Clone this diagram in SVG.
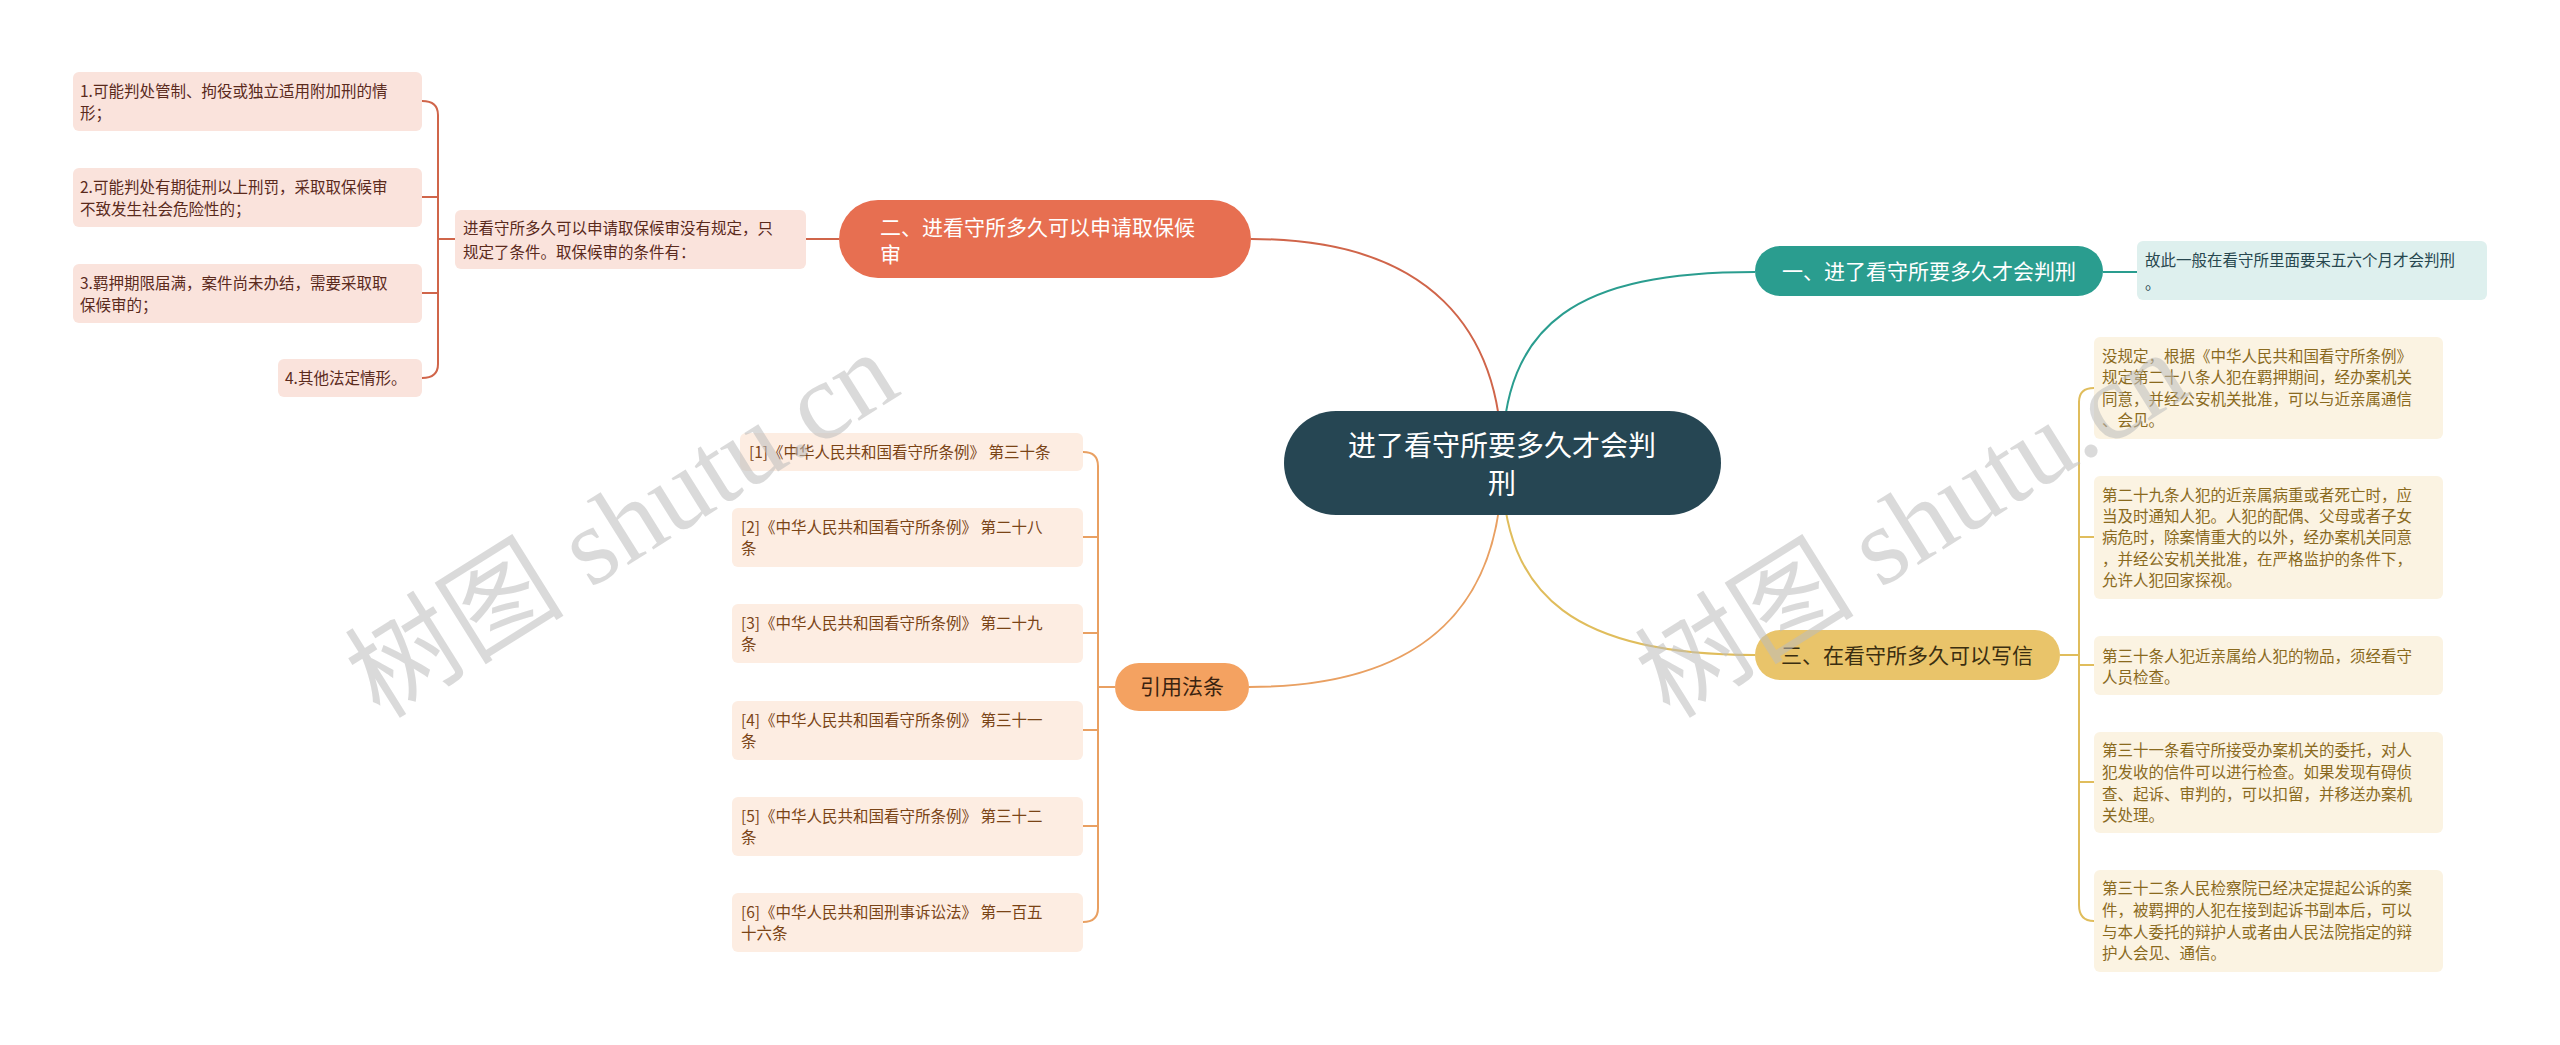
<svg xmlns="http://www.w3.org/2000/svg" width="2560" height="1045" viewBox="0 0 2560 1045">
<style>
text{font-family:"Noto Sans CJK SC","Liberation Sans",sans-serif}
.s{font-size:15.5px}
.p{fill:#fae3dc}.pt{fill:#5a2a1c}
.y{fill:#fbf3e2}.yt{fill:#8a6a1e}
.r{fill:#fdede2}.rt{fill:#7a4416}
.c{fill:none;stroke-width:2}
.wm{font-family:"Liberation Serif","Noto Sans CJK SC",serif;font-size:110px;fill:#bdbdbd;opacity:0.55}
</style>
<rect width="2560" height="1045" fill="#fff"/>
<g id="connectors">
<path class="c" stroke="#d0654a" d="M1251,239 C1430,239 1502,330 1502,463"/>
<path class="c" stroke="#2a9d8f" d="M1502,463 C1502,320 1580,272 1755,272"/>
<path class="c" stroke="#e0bd5c" d="M1502,463 C1502,600 1580,655 1755,655"/>
<path class="c" stroke="#e9a062" d="M1249,687 C1430,687 1502,600 1502,463"/>
<path class="c" stroke="#d0654a" d="M839,239 L806,239"/>
<path class="c" stroke="#d0654a" d="M455,239 L438,239 M422,101 Q438,101 438,115 L438,364 Q438,378 422,378 M438,197 Q438,197 422,197 M438,293 L422,293"/>
<path class="c" stroke="#2a9d8f" d="M2103,272 L2137,272"/>
<path class="c" stroke="#e0bd5c" d="M2060,655 L2079,655 M2094,388 Q2079,388 2079,402 L2079,905 Q2079,921 2094,921 M2079,537 L2094,537 M2079,665 L2094,665 M2079,782 L2094,782"/>
<path class="c" stroke="#e9a062" d="M1115,687 L1098,687 M1083,452 Q1098,452 1098,466 L1098,908 Q1098,922 1083,922 M1098,537 L1083,537 M1098,633 L1083,633 M1098,730 L1083,730 M1098,826 L1083,826"/>
</g>
<g id="center"><rect x="1284" y="411" width="437" height="104" rx="52" fill="#264653"/>
<text x="1502" y="456" font-size="28" fill="#fff" text-anchor="middle">进了看守所要多久才会判</text>
<text x="1502" y="494" font-size="28" fill="#fff" text-anchor="middle">刑</text></g>
<g id="n2"><rect x="839" y="200" width="412" height="78" rx="39" fill="#e76f51"/>
<text x="880" y="235" font-size="21" fill="#fff">二、进看守所多久可以申请取保候</text>
<text x="880" y="262" font-size="21" fill="#fff">审</text></g>
<g id="n2d"><rect x="455" y="210" width="351" height="59" rx="6" class="p"/>
<text class="s pt" x="463" y="234">进看守所多久可以申请取保候审没有规定，只</text>
<text class="s pt" x="463" y="258">规定了条件。取保候审的条件有：</text></g>
<g id="c1"><rect x="73" y="72" width="349" height="59" rx="6" class="p"/>
<text class="s pt" x="80" y="97">1.可能判处管制、拘役或独立适用附加刑的情</text>
<text class="s pt" x="80" y="119">形；</text></g>
<g id="c2"><rect x="73" y="168" width="349" height="59" rx="6" class="p"/>
<text class="s pt" x="80" y="193">2.可能判处有期徒刑以上刑罚，采取取保候审</text>
<text class="s pt" x="80" y="215">不致发生社会危险性的；</text></g>
<g id="c3"><rect x="73" y="264" width="349" height="59" rx="6" class="p"/>
<text class="s pt" x="80" y="289">3.羁押期限届满，案件尚未办结，需要采取取</text>
<text class="s pt" x="80" y="311">保候审的；</text></g>
<g id="c4"><rect x="278" y="359" width="144" height="38" rx="6" class="p"/>
<text class="s pt" x="285" y="384">4.其他法定情形。</text></g>
<g id="n1"><rect x="1755" y="246" width="348" height="50" rx="25" fill="#2a9d8f"/>
<text x="1929" y="279" font-size="21" fill="#fff" text-anchor="middle">一、进了看守所要多久才会判刑</text></g>
<g id="n1d"><rect x="2137" y="241" width="350" height="59" rx="6" fill="#def0ee"/>
<text class="s" fill="#27474f" x="2145" y="266">故此一般在看守所里面要呆五六个月才会判刑</text>
<text class="s" fill="#27474f" x="2145" y="289">。</text></g>
<g id="n3"><rect x="1755" y="630" width="305" height="50" rx="25" fill="#e9c46a"/>
<text x="1907" y="663" font-size="21" fill="#3a2e10" text-anchor="middle">三、在看守所多久可以写信</text></g>
<g id="y1"><rect x="2094" y="337" width="349" height="102" rx="6" class="y"/>
<text class="s yt" x="2102" y="362">没规定，根据《中华人民共和国看守所条例》</text>
<text class="s yt" x="2102" y="383">规定第二十八条人犯在羁押期间，经办案机关</text>
<text class="s yt" x="2102" y="405">同意，并经公安机关批准，可以与近亲属通信</text>
<text class="s yt" x="2102" y="426">、会见。</text></g>
<g id="y2"><rect x="2094" y="476" width="349" height="123" rx="6" class="y"/>
<text class="s yt" x="2102" y="501">第二十九条人犯的近亲属病重或者死亡时，应</text>
<text class="s yt" x="2102" y="522">当及时通知人犯。人犯的配偶、父母或者子女</text>
<text class="s yt" x="2102" y="543">病危时，除案情重大的以外，经办案机关同意</text>
<text class="s yt" x="2102" y="565">，并经公安机关批准，在严格监护的条件下，</text>
<text class="s yt" x="2102" y="586">允许人犯回家探视。</text></g>
<g id="y3"><rect x="2094" y="636" width="349" height="59" rx="6" class="y"/>
<text class="s yt" x="2102" y="662">第三十条人犯近亲属给人犯的物品，须经看守</text>
<text class="s yt" x="2102" y="683">人员检查。</text></g>
<g id="y4"><rect x="2094" y="732" width="349" height="101" rx="6" class="y"/>
<text class="s yt" x="2102" y="756">第三十一条看守所接受办案机关的委托，对人</text>
<text class="s yt" x="2102" y="778">犯发收的信件可以进行检查。如果发现有碍侦</text>
<text class="s yt" x="2102" y="800">查、起诉、审判的，可以扣留，并移送办案机</text>
<text class="s yt" x="2102" y="821">关处理。</text></g>
<g id="y5"><rect x="2094" y="870" width="349" height="102" rx="6" class="y"/>
<text class="s yt" x="2102" y="894">第三十二条人民检察院已经决定提起公诉的案</text>
<text class="s yt" x="2102" y="916">件，被羁押的人犯在接到起诉书副本后，可以</text>
<text class="s yt" x="2102" y="938">与本人委托的辩护人或者由人民法院指定的辩</text>
<text class="s yt" x="2102" y="959">护人会见、通信。</text></g>
<g id="n4"><rect x="1115" y="663" width="134" height="48" rx="24" fill="#f4a261"/>
<text x="1182" y="694" font-size="21" fill="#3a2210" text-anchor="middle">引用法条</text></g>
<g id="r1"><rect x="740" y="433" width="343" height="38" rx="6" class="r"/>
<text class="s rt" x="749" y="458">[1]《中华人民共和国看守所条例》 第三十条</text></g>
<g id="r2"><rect x="732" y="508" width="351" height="59" rx="6" class="r"/>
<text class="s rt" x="741" y="533">[2]《中华人民共和国看守所条例》 第二十八</text>
<text class="s rt" x="741" y="554">条</text></g>
<g id="r3"><rect x="732" y="604" width="351" height="59" rx="6" class="r"/>
<text class="s rt" x="741" y="629">[3]《中华人民共和国看守所条例》 第二十九</text>
<text class="s rt" x="741" y="650">条</text></g>
<g id="r4"><rect x="732" y="701" width="351" height="59" rx="6" class="r"/>
<text class="s rt" x="741" y="726">[4]《中华人民共和国看守所条例》 第三十一</text>
<text class="s rt" x="741" y="747">条</text></g>
<g id="r5"><rect x="732" y="797" width="351" height="59" rx="6" class="r"/>
<text class="s rt" x="741" y="822">[5]《中华人民共和国看守所条例》 第三十二</text>
<text class="s rt" x="741" y="843">条</text></g>
<g id="r6"><rect x="732" y="893" width="351" height="59" rx="6" class="r"/>
<text class="s rt" x="741" y="918">[6]《中华人民共和国刑事诉讼法》 第一百五</text>
<text class="s rt" x="741" y="939">十六条</text></g>
<text class="wm" transform="translate(380,720) rotate(-32)">树图 shutu.cn</text>
<text class="wm" transform="translate(1670,720) rotate(-32)">树图 shutu.cn</text>
</svg>
